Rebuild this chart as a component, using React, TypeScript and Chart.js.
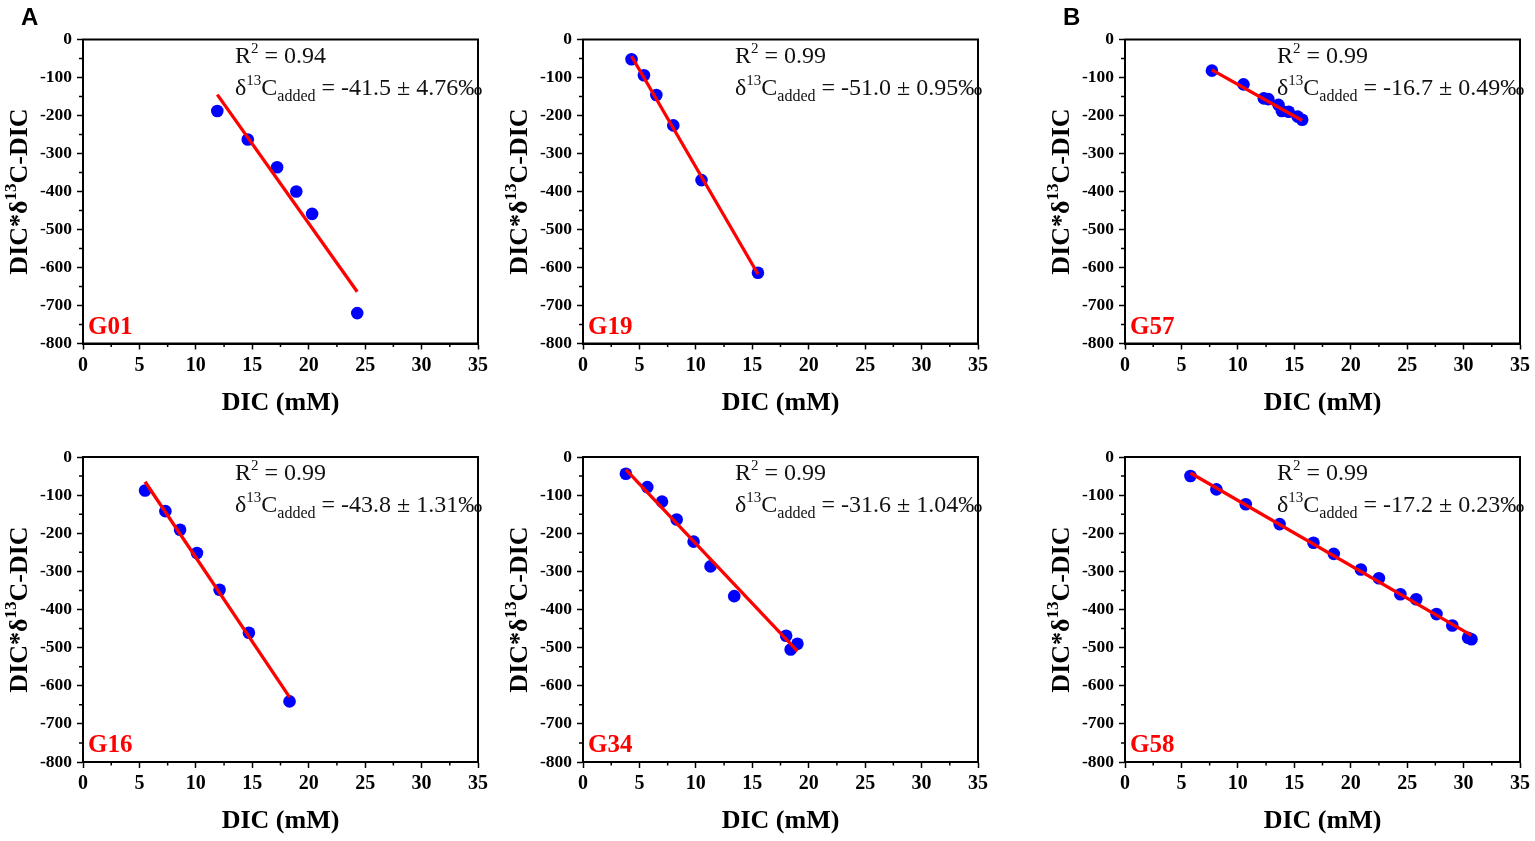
import { useEffect, useRef } from 'react';
import { Chart, registerables } from 'chart.js';

Chart.register(...registerables);

const SERIF = '"Liberation Serif", "Times New Roman", serif';
const SANS = '"Liberation Sans", Arial, sans-serif';

// ---- data ----
const g01X = [11.9, 14.6, 17.2, 18.9, 20.3, 24.3];
const g01Y = [-188, -263, -336, -400, -459, -720];
const g01FitX = [11.9, 24.3];
const g01FitY = [-145, -664];

const g19X = [4.3, 5.4, 6.5, 8.0, 10.5, 15.5];
const g19Y = [-52, -94, -146, -226, -370, -614];
const g19FitX = [4.3, 15.5];
const g19FitY = [-44, -617];

const g57X = [7.7, 10.5, 12.3, 12.7, 13.6, 13.9, 14.5, 15.3, 15.7];
const g57Y = [-82, -118, -155, -157, -172, -188, -190, -203, -211];
const g57FitX = [7.7, 15.7];
const g57FitY = [-80, -213];

const g16X = [5.5, 7.3, 8.6, 10.1, 12.1, 14.7, 18.3];
const g16Y = [-88, -142, -191, -252, -348, -461, -641];
const g16FitX = [5.5, 18.3];
const g16FitY = [-65, -630];

const g34X = [3.8, 5.7, 7.0, 8.3, 9.8, 11.3, 13.4, 18.0, 18.4, 19.0];
const g34Y = [-44, -79, -117, -164, -222, -287, -365, -469, -505, -490];
const g34FitX = [3.8, 19.0];
const g34FitY = [-33, -509];

const g58X = [5.8, 8.1, 10.7, 13.7, 16.7, 18.5, 20.9, 22.5, 24.4, 25.8, 27.6, 29.0, 30.4, 30.7];
const g58Y = [-50, -85, -124, -176, -225, -254, -295, -318, -360, -373, -412, -442, -474, -478];
const g58FitX = [5.8, 30.7];
const g58FitY = [-42, -468];

const siteNames = ['G01', 'G19', 'G57', 'G16', 'G34', 'G58'];
const r2Labels = ['0.94', '0.99', '0.99', '0.99', '0.99', '0.99'];
const addedLabels = [
  '-41.5 ± 4.76‰',
  '-51.0 ± 0.95‰',
  '-16.7 ± 0.49‰',
  '-43.8 ± 1.31‰',
  '-31.6 ± 1.04‰',
  '-17.2 ± 0.23‰',
];
const panelTags = ['A', '', 'B', '', '', ''];

const xMin = 0;
const xMax = 35;
const xStep = 5;
const yMin = -800;
const yMax = 0;
const yStep = 100;
const xTitle = 'DIC (mM)';

const seriesX = [g01X, g19X, g57X, g16X, g34X, g58X];
const seriesY = [g01Y, g19Y, g57Y, g16Y, g34Y, g58Y];
const fitXs = [g01FitX, g19FitX, g57FitX, g16FitX, g34FitX, g58FitX];
const fitYs = [g01FitY, g19FitY, g57FitY, g16FitY, g34FitY, g58FitY];

// layout of the 2x3 grid
const colLeft = [0, 500, 1042];
const rowTop = [0, 417];
const rowHeight = [420, 421];
const rowPadTop = [39.5, 40];
const rowAreaH = [304, 305];
const CANVAS_W = 492;
const Y_AXIS_W = 83;

type Seg = { t: string; font: string; dy?: number };

function richWidth(ctx: CanvasRenderingContext2D, segs: Seg[]) {
  let w = 0;
  for (const s of segs) {
    ctx.font = s.font;
    w += ctx.measureText(s.t).width;
  }
  return w;
}

function drawRich(ctx: CanvasRenderingContext2D, segs: Seg[], x: number, y: number) {
  let cx = x;
  for (const s of segs) {
    ctx.font = s.font;
    ctx.fillText(s.t, cx, y + (s.dy || 0));
    cx += ctx.measureText(s.t).width;
  }
}

function Panel({ idx }: { idx: number }) {
  const canvasRef = useRef<HTMLCanvasElement>(null);
  const row = Math.floor(idx / 3);
  const col = idx % 3;

  useEffect(() => {
    if (!canvasRef.current) return;

    const points = seriesX[idx].map((x, i) => ({ x, y: seriesY[idx][i] }));
    const fit = fitXs[idx].map((x, i) => ({ x, y: fitYs[idx][i] }));

    const deco = {
      id: 'deco',
      afterDraw(chart: any) {
        const ctx: CanvasRenderingContext2D = chart.ctx;
        const a = chart.chartArea;
        const sx = chart.scales.x;
        const sy = chart.scales.y;
        ctx.save();
        // minor ticks
        ctx.strokeStyle = '#000';
        ctx.lineWidth = 1.5;
        ctx.beginPath();
        for (let v = xMin + xStep / 2; v < xMax; v += xStep) {
          const px = sx.getPixelForValue(v);
          ctx.moveTo(px, a.bottom);
          ctx.lineTo(px, a.bottom + 3.5);
        }
        for (let v = yMin + yStep / 2; v < yMax; v += yStep) {
          const py = sy.getPixelForValue(v);
          ctx.moveTo(a.left, py);
          ctx.lineTo(a.left - 4, py);
        }
        ctx.stroke();

        // frame
        ctx.lineWidth = 2;
        ctx.strokeRect(a.left, a.top, a.right - a.left, a.bottom - a.top);

        ctx.fillStyle = '#000';
        ctx.textBaseline = 'alphabetic';

        // x title
        ctx.font = `bold 26px ${SERIF}`;
        ctx.textAlign = 'center';
        ctx.fillText(xTitle, (a.left + a.right) / 2, a.bottom + 66);
        ctx.textAlign = 'left';

        // y title (rotated, with superscript)
        const yt: Seg[] = [
          { t: 'DIC*δ', font: `bold 26px ${SERIF}` },
          { t: '13', font: `bold 17px ${SERIF}`, dy: -11 },
          { t: 'C-DIC', font: `bold 26px ${SERIF}` },
        ];
        ctx.save();
        ctx.translate(a.left - 56, (a.top + a.bottom) / 2);
        ctx.rotate(-Math.PI / 2);
        drawRich(ctx, yt, -richWidth(ctx, yt) / 2, 0);
        ctx.restore();

        // regression annotation
        const big = `24px ${SERIF}`;
        const small = `15px ${SERIF}`;
        ctx.fillStyle = '#111';
        drawRich(
          ctx,
          [
            { t: 'R', font: big },
            { t: '2', font: small, dy: -10 },
            { t: ' = ' + r2Labels[idx], font: big },
          ],
          a.left + 152,
          a.top + 23
        );
        drawRich(
          ctx,
          [
            { t: 'δ', font: big },
            { t: '13', font: small, dy: -10 },
            { t: 'C', font: big },
            { t: 'added', font: `16px ${SERIF}`, dy: 6 },
            { t: ' = ' + addedLabels[idx], font: big },
          ],
          a.left + 152,
          a.top + 55
        );

        // site label
        ctx.fillStyle = '#ff0000';
        ctx.font = `bold 25px ${SERIF}`;
        ctx.fillText(siteNames[idx], a.left + 5, a.bottom - 10);

        // panel tag
        if (panelTags[idx]) {
          ctx.fillStyle = '#000';
          ctx.font = `bold 24px ${SANS}`;
          ctx.fillText(panelTags[idx], a.left - 62, 25);
        }
        ctx.restore();
      },
    };

    const chart = new Chart(canvasRef.current, {
      type: 'scatter',
      data: {
        datasets: [
          {
            type: 'line',
            data: fit,
            borderColor: '#ff0000',
            borderWidth: 3.3,
            pointRadius: 0,
            showLine: true,
            fill: false,
            order: 0,
          } as any,
          {
            data: points,
            backgroundColor: '#0000ff',
            borderWidth: 0,
            pointRadius: 6.3,
            order: 1,
          },
        ],
      },
      options: {
        animation: false,
        responsive: true,
        maintainAspectRatio: false,
        layout: { padding: { top: rowPadTop[row], right: 12, left: 0, bottom: 0 } },
        plugins: { legend: { display: false }, tooltip: { enabled: false } },
        scales: {
          x: {
            type: 'linear',
            min: xMin,
            max: xMax,
            afterFit: (scale: any) => {
              scale.height = rowHeight[row] - rowPadTop[row] - rowAreaH[row];
            },
            ticks: {
              stepSize: xStep,
              autoSkip: false,
              maxRotation: 0,
              padding: 4,
              color: '#000',
              font: { family: SERIF, size: 20, weight: 'bold' },
              callback: (v: any) => String(v),
            },
            grid: {
              display: true,
              drawOnChartArea: false,
              drawTicks: true,
              tickLength: 6,
              tickWidth: 1.5,
              tickColor: '#000',
            },
            border: { display: true, color: '#000', width: 2 },
          },
          y: {
            type: 'linear',
            min: yMin,
            max: yMax,
            afterFit: (scale: any) => {
              scale.width = Y_AXIS_W;
            },
            ticks: {
              stepSize: yStep,
              autoSkip: false,
              padding: 5,
              color: '#000',
              font: { family: SERIF, size: 17.5, weight: 'bold' },
              callback: (v: any) => String(v),
            },
            grid: {
              display: true,
              drawOnChartArea: false,
              drawTicks: true,
              tickLength: 6,
              tickWidth: 1.5,
              tickColor: '#000',
            },
            border: { display: true, color: '#000', width: 2 },
          },
        },
      },
      plugins: [deco],
    });

    return () => chart.destroy();
  }, [idx, row]);

  return (
    <div
      style={{
        position: 'absolute',
        left: colLeft[col],
        top: rowTop[row],
        width: CANVAS_W,
        height: rowHeight[row],
      }}
    >
      <canvas ref={canvasRef} />
    </div>
  );
}

export default function App() {
  return (
    <div
      style={{
        position: 'absolute',
        left: 0,
        top: 0,
        width: 1535,
        height: 841,
        background: '#fff',
        overflow: 'hidden',
      }}
    >
      {siteNames.map((_, i) => (
        <Panel key={i} idx={i} />
      ))}
    </div>
  );
}
